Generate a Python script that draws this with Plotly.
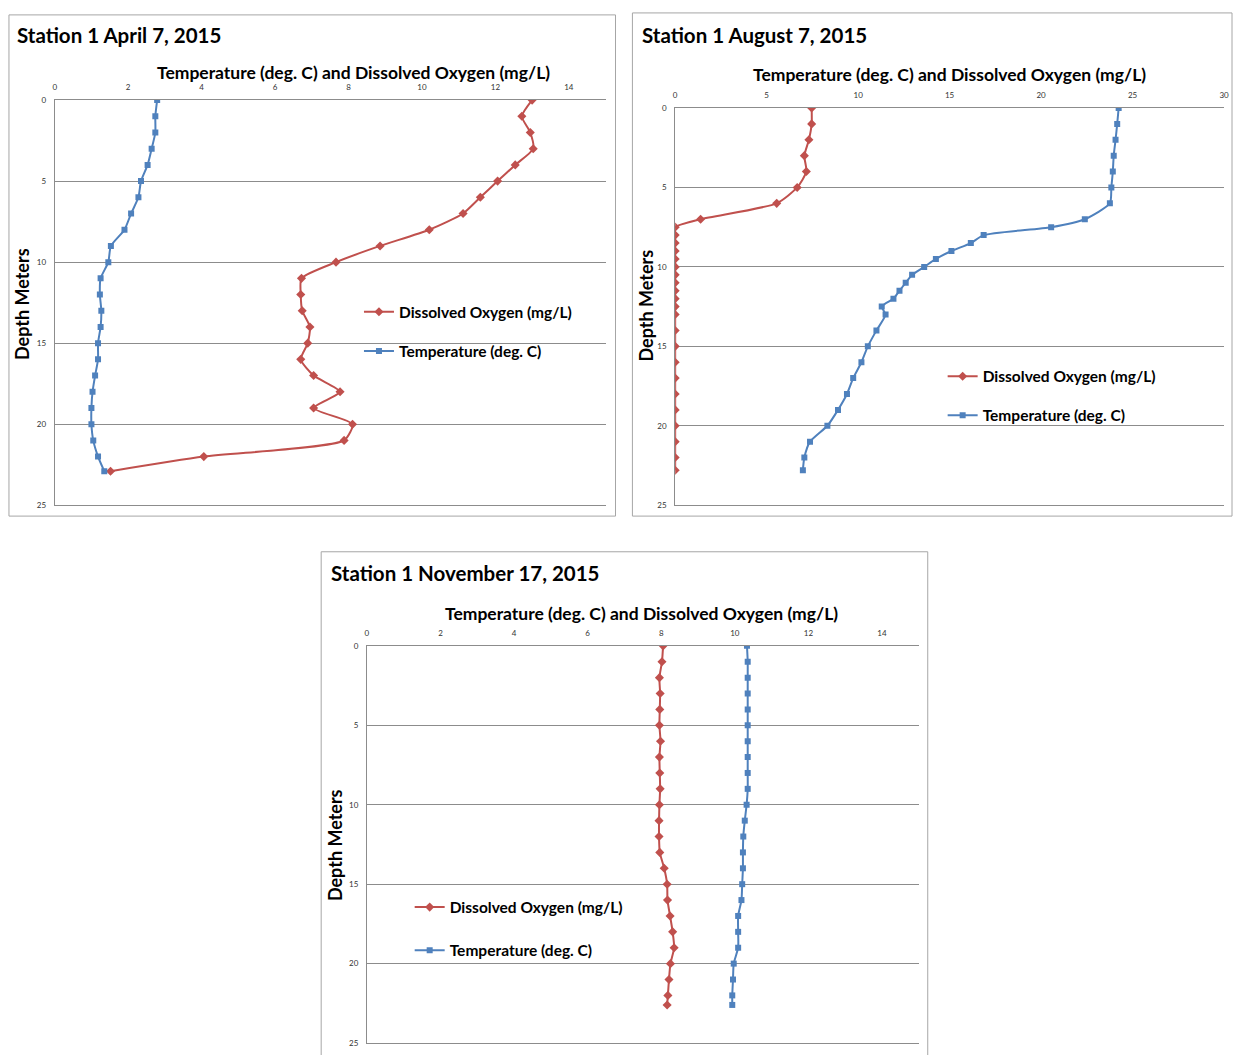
import plotly.graph_objects as go

W, H = 1238, 1055

# ---- Station 1, April 7, 2015 ----
apr_depth = [0, 1, 2, 3, 4, 5, 6, 7, 8, 9, 10, 11, 12, 13, 14, 15, 16, 17, 18, 19, 20, 21, 22, 22.9]
apr_temp = [2.79, 2.74, 2.74, 2.64, 2.53, 2.35, 2.28, 2.08, 1.90, 1.53, 1.46, 1.25,
            1.23, 1.27, 1.25, 1.18, 1.18, 1.10, 1.03, 1.00, 1.00, 1.05, 1.18, 1.35]
apr_do = [13.0, 12.72, 12.95, 13.03, 12.54, 12.06, 11.59, 11.12, 10.2, 8.86, 7.66, 6.72,
          6.70, 6.74, 6.95, 6.89, 6.70, 7.05, 7.77, 7.05, 8.11, 7.88, 4.06, 1.52]

# ---- Station 1, August 7, 2015 ----
aug_depth = [0, 1, 2, 3, 4, 5, 6, 7, 7.5, 8, 8.5, 9, 9.5, 10, 10.5, 11, 11.5, 12, 12.5,
             13, 14, 15, 16, 17, 18, 19, 20, 21, 22, 22.8]
aug_temp = [24.24, 24.16, 24.07, 23.97, 23.92, 23.84, 23.76, 22.39, 20.55, 16.86, 16.16,
            15.1, 14.25, 13.61, 12.95, 12.6, 12.26, 11.93, 11.29, 11.5, 11.0, 10.53, 10.18,
            9.73, 9.39, 8.9, 8.32, 7.37, 7.06, 6.98]
aug_do = [7.46, 7.46, 7.31, 7.06, 7.17, 6.67, 5.55, 1.39, 0, 0, 0, 0, 0, 0, 0, 0, 0, 0, 0,
          0, 0, 0, 0, 0, 0, 0, 0, 0, 0, 0]

# ---- Station 1, November 17, 2015 ----
nov_depth = [0, 1, 2, 3, 4, 5, 6, 7, 8, 9, 10, 11, 12, 13, 14, 15, 16, 17, 18, 19, 20, 21, 22, 22.6]
nov_temp = [10.33, 10.35, 10.35, 10.35, 10.35, 10.35, 10.35, 10.35, 10.35, 10.35, 10.32, 10.27,
            10.23, 10.22, 10.22, 10.20, 10.18, 10.09, 10.09, 10.09, 9.97, 9.95, 9.93, 9.93]
nov_do = [8.05, 8.02, 7.95, 7.97, 7.96, 7.95, 7.98, 7.95, 7.96, 7.97, 7.95, 7.94,
          7.94, 7.96, 8.08, 8.16, 8.17, 8.24, 8.31, 8.35, 8.25, 8.21, 8.18, 8.16]

titles = ["Station 1 April 7, 2015", "Station 1 August 7, 2015", "Station 1 November 17, 2015"]
x_title = "Temperature (deg. C) and Dissolved Oxygen (mg/L)"
y_title = "Depth Meters"
do_name = "Dissolved Oxygen (mg/L)"
temp_name = "Temperature (deg. C)"

RED = "#C0504D"
BLUE = "#4F81BD"
GRID = "#8C8C8C"
FRAME = "#A6A6A6"
FONT = "Lato"


def px_x(v):
    return v / W


def px_y(v):
    return 1 - v / H


# panel layout in pixels: plot box, frame box, title spot, axis-title spot, legend spot
panels = [
    dict(depth=apr_depth, temp=apr_temp, do=apr_do, xmax=15, dtick=2,
         plot=(53, 96, 607, 505), frame=(7, 10, 617, 516),
         title=(13, 30), xt=(354, 68), yt=(20, 302), leg=(359, 293), gap=16),
    dict(depth=aug_depth, temp=aug_temp, do=aug_do, xmax=30, dtick=5,
         plot=(677, 104, 1229, 505), frame=(634, 8, 1237, 516),
         title=(642, 30), xt=(953, 70), yt=(648, 303), leg=(946, 358), gap=16),
    dict(depth=nov_depth, temp=nov_temp, do=nov_do, xmax=15, dtick=2,
         plot=(367, 647, 922, 1048), frame=(321, 552, 931, 1062),
         title=(329, 573), xt=(643, 614), yt=(335, 848), leg=(410, 894), gap=20),
]

fig = go.Figure()
shapes = []
annotations = []
layout = {}

for i, p in enumerate(panels):
    n = "" if i == 0 else str(i + 1)
    xa, ya = "x" + n, "y" + n
    leg = "legend" + n
    x0, y0, x1, y1 = p["plot"]

    fig.add_trace(go.Scatter(
        x=p["do"], y=p["depth"], name=do_name, mode="lines+markers",
        line=dict(color=RED, width=2, shape="spline", smoothing=0.6),
        marker=dict(symbol="diamond", size=7, color=RED),
        xaxis=xa, yaxis=ya, legend=leg, legendgroup="do" + n))
    fig.add_trace(go.Scatter(
        x=p["temp"], y=p["depth"], name=temp_name, mode="lines+markers",
        line=dict(color=BLUE, width=2, shape="spline", smoothing=0.6),
        marker=dict(symbol="square", size=6, color=BLUE),
        xaxis=xa, yaxis=ya, legend=leg, legendgroup="t" + n))

    # top value axis; its line (mirrored) forms the 0 m and 25 m rules
    layout["xaxis" + n] = dict(
        domain=[px_x(x0), px_x(x1)], range=[0, p["xmax"]], dtick=p["dtick"],
        side="top", anchor=ya, showgrid=False, zeroline=False,
        showline=True, mirror=True, linecolor=GRID, linewidth=1,
        ticks="", ticklabelstandoff=6,
        tickfont=dict(family=FONT, size=8, color="#333333"),
        fixedrange=True)
    layout["yaxis" + n] = dict(
        domain=[px_y(y1), px_y(y0)], range=[25, 0], dtick=5, anchor=xa,
        showgrid=True, gridcolor=GRID, gridwidth=1, zeroline=False,
        showline=True, linecolor=GRID, linewidth=1, ticks="",
        ticklabelstandoff=6,
        tickfont=dict(family=FONT, size=8, color="#333333"), fixedrange=True)

    lx, ly = p["leg"]
    layout[leg] = dict(
        x=px_x(lx), y=px_y(ly), xanchor="left", yanchor="top",
        bgcolor="rgba(0,0,0,0)", borderwidth=0, itemwidth=30,
        tracegroupgap=p["gap"], traceorder="grouped",
        font=dict(family=FONT, size=15.5, color="#000000", weight="bold"))

    fx0, fy0, fx1, fy1 = p["frame"]
    shapes.append(dict(type="rect", xref="paper", yref="paper",
                       x0=px_x(fx0), y0=px_y(fy1), x1=px_x(fx1), y1=px_y(fy0),
                       line=dict(color=FRAME, width=1), fillcolor="rgba(0,0,0,0)",
                       layer="below"))

    tx, ty = p["title"]
    annotations.append(dict(text=titles[i], xref="paper", yref="paper",
                            x=px_x(tx), y=px_y(ty), xanchor="left", yanchor="middle",
                            showarrow=False,
                            font=dict(family=FONT, size=20.5, color="#000000", weight="bold")))
    ax, ay = p["xt"]
    annotations.append(dict(text=x_title, xref="paper", yref="paper",
                            x=px_x(ax), y=px_y(ay), xanchor="center", yanchor="middle",
                            showarrow=False,
                            font=dict(family=FONT, size=17.5, color="#000000", weight="bold")))
    yx, yy = p["yt"]
    annotations.append(dict(text=y_title, xref="paper", yref="paper",
                            x=px_x(yx), y=px_y(yy), xanchor="center", yanchor="middle",
                            textangle=-90, showarrow=False,
                            font=dict(family=FONT, size=18, color="#000000", weight="bold")))

fig.update_layout(
    width=W, height=H, margin=dict(l=0, r=0, t=0, b=0),
    paper_bgcolor="white", plot_bgcolor="white",
    shapes=shapes, annotations=annotations, showlegend=True,
    **layout)

fig.write_html("out.html")
